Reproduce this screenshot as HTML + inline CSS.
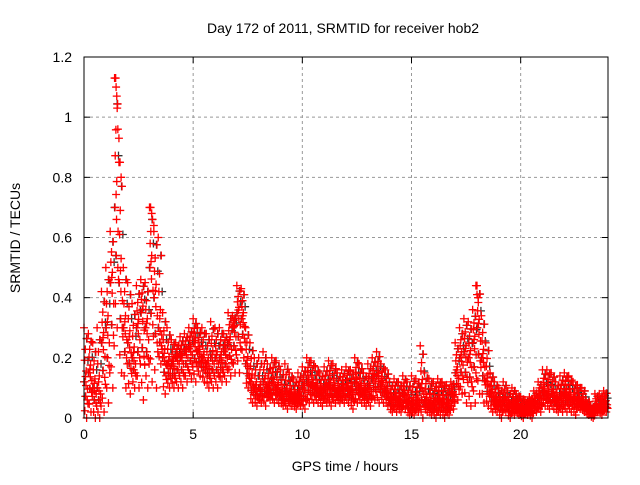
<!DOCTYPE html>
<html><head><meta charset="utf-8"><style>
body{margin:0;background:#fff;}
svg text{font-family:"Liberation Sans",sans-serif;font-size:14px;fill:#000;}
</style></head><body>
<svg id="chart" width="640" height="480">
<text x="343" y="33" text-anchor="middle">Day 172 of 2011, SRMTID for receiver hob2</text>
<g id="grid"></g><g id="axes"></g><g id="marks"></g>
<rect x="84" y="57" width="524" height="361" fill="none" stroke="#000" stroke-width="1"/>
<text x="345" y="471" text-anchor="middle">GPS time / hours</text>
<text transform="translate(20,238) rotate(-90)" text-anchor="middle">SRMTID / TECUs</text>
</svg>
<script>
const xTicks=[0,5,10,15,20];
const yTicks=[0,0.2,0.4,0.6,0.8,1,1.2];
const binStart=0, binWidth=0.2;
const hiVals=[0.3,0.28,0.25,0.3,0.42,0.5,0.62,1.13,0.85,0.5,0.45,0.38,0.44,0.46,0.45,0.7,0.62,0.6,0.35,0.3,0.26,0.25,0.27,0.28,0.3,0.33,0.3,0.3,0.28,0.32,0.3,0.3,0.28,0.35,0.34,0.44,0.43,0.3,0.25,0.2,0.2,0.22,0.18,0.2,0.19,0.16,0.18,0.15,0.13,0.15,0.17,0.2,0.19,0.17,0.15,0.17,0.19,0.18,0.15,0.16,0.17,0.16,0.2,0.18,0.15,0.18,0.2,0.22,0.18,0.16,0.12,0.13,0.12,0.14,0.12,0.14,0.13,0.24,0.15,0.13,0.12,0.13,0.12,0.11,0.12,0.25,0.3,0.33,0.32,0.36,0.44,0.34,0.25,0.15,0.12,0.1,0.12,0.09,0.1,0.08,0.07,0.06,0.07,0.09,0.12,0.16,0.16,0.15,0.12,0.14,0.15,0.14,0.12,0.11,0.1,0.06,0.04,0.08,0.08,0.09];
const midVals=[0.12,0.15,0.1,0.1,0.25,0.3,0.45,0.7,0.45,0.3,0.25,0.2,0.3,0.35,0.3,0.5,0.4,0.3,0.2,0.18,0.18,0.2,0.2,0.22,0.23,0.25,0.22,0.2,0.18,0.2,0.2,0.2,0.22,0.25,0.3,0.35,0.33,0.18,0.12,0.1,0.1,0.12,0.1,0.12,0.1,0.08,0.09,0.08,0.07,0.08,0.1,0.12,0.11,0.1,0.09,0.1,0.11,0.1,0.09,0.1,0.1,0.09,0.12,0.1,0.09,0.1,0.13,0.14,0.11,0.09,0.06,0.07,0.06,0.08,0.05,0.05,0.06,0.1,0.06,0.05,0.05,0.06,0.05,0.05,0.08,0.15,0.2,0.22,0.2,0.25,0.3,0.2,0.12,0.08,0.06,0.05,0.06,0.04,0.05,0.04,0.03,0.03,0.04,0.05,0.07,0.09,0.08,0.08,0.06,0.07,0.08,0.07,0.06,0.06,0.05,0.03,0.02,0.04,0.04,0.05];
const loVals=[0.0,0.02,0.0,0.0,0.02,0.05,0.1,0.3,0.15,0.1,0.08,0.1,0.1,0.06,0.1,0.12,0.1,0.18,0.08,0.1,0.1,0.1,0.1,0.12,0.13,0.12,0.14,0.12,0.1,0.1,0.1,0.12,0.12,0.14,0.15,0.15,0.2,0.1,0.05,0.04,0.05,0.04,0.06,0.05,0.05,0.04,0.03,0.04,0.03,0.04,0.03,0.05,0.05,0.05,0.04,0.05,0.04,0.05,0.05,0.05,0.05,0.03,0.05,0.05,0.04,0.04,0.06,0.05,0.05,0.04,0.02,0.02,0.02,0.03,0.01,0.01,0.02,0.0,0.02,0.01,0.0,0.01,0.0,0.01,0.03,0.06,0.08,0.05,0.04,0.05,0.08,0.05,0.04,0.02,0.02,0.0,0.02,0.0,0.01,0.01,0.0,0.01,0.0,0.02,0.02,0.04,0.03,0.03,0.02,0.02,0.02,0.02,0.01,0.03,0.02,0.01,0.0,0.02,0.01,0.02];
const spikeTimes=[1.45,1.47,1.5,1.52,1.55,1.6,1.65,1.7,3.05,3.1,3.2,17.95,18.0,18.05];
const spikeVals=[1.13,1.1,1.07,1.03,0.96,0.93,0.85,0.8,0.7,0.68,0.64,0.44,0.41,0.4];

const NS='http://www.w3.org/2000/svg';
const X0=84,X1=608,Y0=418,Y1=57;
const xs=t=>X0+(t/24)*(X1-X0);
const ys=v=>Y0-(v/1.2)*(Y0-Y1);
function mk(tag,attrs,parent){const e=document.createElementNS(NS,tag);for(const k in attrs)e.setAttribute(k,attrs[k]);parent.appendChild(e);return e;}
const grid=document.getElementById('grid'),axes=document.getElementById('axes'),marks=document.getElementById('marks');
xTicks.forEach(t=>{
  const x=xs(t);
  if(t>0){const g=mk('line',{x1:x,x2:x,y1:Y0,y2:Y1,stroke:'#999','stroke-dasharray':'3,3'},grid);
  
  }
  mk('line',{x1:x,x2:x,y1:Y0,y2:Y0-6,stroke:'#000'},axes);
  mk('line',{x1:x,x2:x,y1:Y1,y2:Y1+6,stroke:'#000'},axes);
  const l=mk('text',{x:x,y:Y0+21,'text-anchor':'middle'},axes);l.textContent=t;
  
  
});
yTicks.forEach(v=>{
  const y=ys(v);
  if(v>0&&v<1.2){const g=mk('line',{x1:X0,x2:X1,y1:y,y2:y,stroke:'#999','stroke-dasharray':'3,3'},grid);
  
  }
  mk('line',{x1:X0,x2:X0+6,y1:y,y2:y,stroke:'#000'},axes);
  mk('line',{x1:X1,x2:X1-6,y1:y,y2:y,stroke:'#000'},axes);
  const l=mk('text',{x:X0-12,y:y+5,'text-anchor':'end'},axes);l.textContent=v;
  
  
});
function plus(t,v,color){
  const x=xs(t),y=ys(v);
  const p=mk('path',{d:`M${x-4},${y}h8M${x},${y-4}v8`,stroke:color,'stroke-width':1.3,fill:'none'},marks);
  
  
}
// fixed placement pattern inside each bin (time fraction, blend position between lo→mid→hi)
const offT=[0,0.02,0.04,0.06,0.08,0.1,0.12,0.14,0.16,0.18,0.03,0.09,0.15,0.07];
const offF=[1,0.5,0.1,0.8,0.3,0.6,0.0,0.9,0.4,0.2,0.7,0.45,0.25,0.55];
function blend(i,f){return f>=0.5?midVals[i]+(hiVals[i]-midVals[i])*(f-0.5)*2:loVals[i]+(midVals[i]-loVals[i])*f*2;}
midVals.forEach((v,i)=>{for(let k=0;k<4;k++)plus(binStart+i*binWidth+offT[k*3],blend(i,offF[k*3+1]),'#333');});
hiVals.forEach((v,i)=>{
  const t=binStart+i*binWidth;
  for(let k=0;k<offT.length;k++)plus(t+offT[k],blend(i,offF[k]),'#f00');
});
spikeTimes.forEach((t,i)=>plus(t,spikeVals[i],'#f00'));
</script>
</body></html>
